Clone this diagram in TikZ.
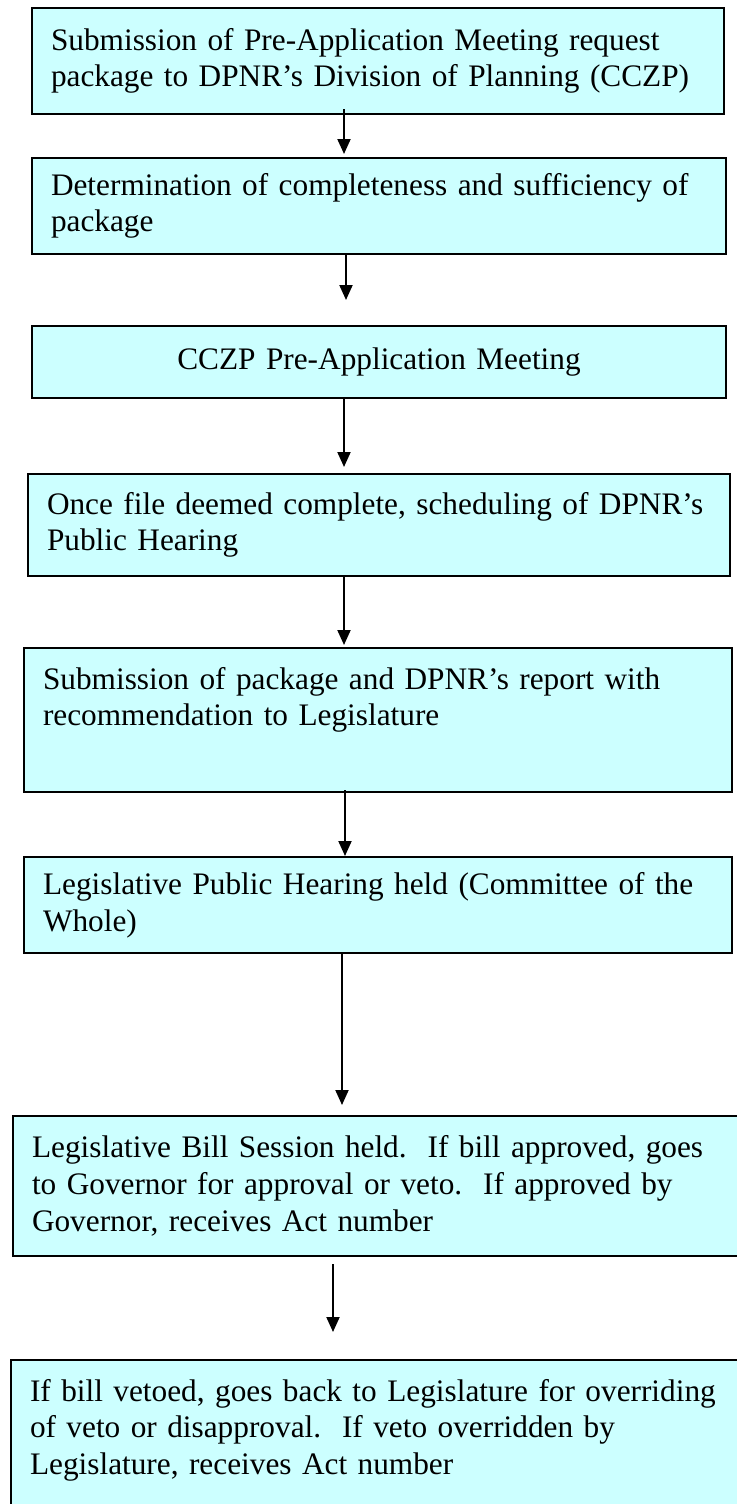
\documentclass[tikz,border=0pt]{standalone}
\usepackage{fontspec}
\setmainfont{Liberation Serif}
\definecolor{paleaqua}{rgb}{0.8, 1.0, 1.0}
\usetikzlibrary{arrows.meta}

\begin{document}
\begin{tikzpicture}[x=1pt, y=-1pt,
      font=\fontsize{31.3}{36.7}\selectfont,
      stage/.style={draw=black, line width=2pt, fill=paleaqua, anchor=north west,
        inner xsep=19pt, inner ysep=4pt, align=left},
      flow/.style={line width=2pt, -{Triangle[length=15pt,width=13pt]}}]

      \useasboundingbox (0,0) rectangle (736,1504);

      % steps of the procedure
      \node[stage, text width=654pt, minimum height=106pt] (s1) at (31,7)
        {Submission of Pre-Application Meeting request\\package to DPNR’s Division of Planning (CCZP)};
      \node[stage, text width=656pt, minimum height=96pt] (s2) at (31,157)
        {Determination of completeness and sufficiency of\\package};
      \node[stage, text width=656pt, minimum height=72pt, align=center] (s3) at (31,325)
        {CCZP Pre-Application Meeting};
      \node[stage, text width=664pt, minimum height=102pt] (s4) at (27,473)
        {Once file deemed complete, scheduling of DPNR’s\\Public Hearing};
      \node[stage, text width=670pt, minimum height=144pt, text depth=84pt] (s5) at (23,647)
        {Submission of package and DPNR’s report with\\recommendation to Legislature};
      \node[stage, text width=670pt, minimum height=96pt] (s6) at (23,856)
        {Legislative Public Hearing held (Committee of the\\Whole)};
      \node[stage, text width=702pt, minimum height=140pt] (s7) at (12,1115)
        {Legislative Bill Session held.\ \ If bill approved, goes\\to Governor for approval or veto.\ \ If approved by\\Governor, receives Act number};
      \node[stage, text width=704pt, minimum height=160pt, text depth=100pt] (s8) at (10,1359)
        {If bill vetoed, goes back to Legislature for overriding\\of veto or disapproval.\ \ If veto overridden by\\Legislature, receives Act number};

      % arrows
      \draw[flow] ([xshift=-34, yshift=6]s1.south) -- ([xshift=-35, yshift=3]s2.north);
      \draw[flow] ([xshift=-33]s2.south) -- ([xshift=-33, yshift=25]s3.north);
      \draw[flow] ([xshift=-35]s3.south) -- ([xshift=-35, yshift=6]s4.north);
      \draw[flow] ([xshift=-35]s4.south) -- ([xshift=-34, yshift=2]s5.north);
      \draw[flow] ([xshift=-33, yshift=3]s5.south) -- ([xshift=-33]s6.north);
      \draw[flow] ([xshift=-36]s6.south) -- ([xshift=-41, yshift=10]s7.north);
      \draw[flow] ([xshift=-50, yshift=-7]s7.south) -- ([xshift=-49, yshift=27]s8.north);
\end{tikzpicture}
\end{document}
